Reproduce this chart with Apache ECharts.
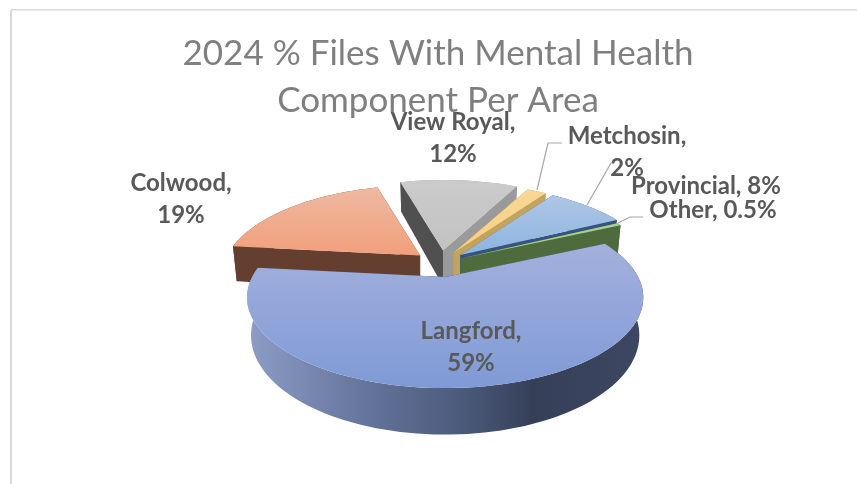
<!DOCTYPE html>
<html>
<head>
<meta charset="utf-8">
<title>2024 % Files With Mental Health Component Per Area</title>
<script src="https://cdn.jsdelivr.net/npm/echarts@6/dist/echarts.min.js"></script>
<style>
  html, body { margin: 0; padding: 0; background: #fff; }
  #chart { width: 857px; height: 484px; }
</style>
</head>
<body>
<div id="chart"></div>
<script>
const areas = ['Langford', 'Colwood', 'View Royal', 'Metchosin', 'Provincial', 'Other']
const shares = [59, 19, 12, 2, 8, 0.5]
const explode = [0.165, 0.135, 0.15, 0.135, 0.14, 0.12]

const topColors = [
  ['#A4B0DC', '#7F9AD6'],
  ['#EEB9A2', '#F29F7B'],
  ['#CBCBCB', '#C2C2C2'],
  ['#F7D896', '#F9CF80'],
  ['#AEC6E4', '#8EB4E0'],
  ['#A9D18E', '#A9D18E']
]
const startWall = ['#3A4560', '#643F30', '#505050', '#B89A50', '#35557F', '#4E6B3E']
const endWall = ['#3A4560', '#643F30', '#9A9A9A', '#C4A45C', '#35557F', '#4E6B3E']
const rimWall = ['#3A4560', '#643F30', '#9A9A9A', '#B89A50', '#35557F', '#4E6B3E']

// painted back to front, Langford hides the walls behind it
const drawOrder = [1, 2, 3, 4, 5, 0]

const firstAngle = 65
const baseX = 440
const baseY = 263
const radiusX = 193
const radiusY = 86
const perspective = 0.226
const depth = 36
const depthShrink = 0.98

const total = shares.reduce((a, b) => a + b, 0)
const slices = []
let angle = firstAngle
shares.forEach((v, i) => {
  const sweep = v / total * 360
  const mid = (angle + sweep / 2) * Math.PI / 180
  slices.push({
    from: angle,
    to: angle + sweep,
    ox: baseX + explode[i] * radiusX * Math.sin(mid),
    oy: baseY - explode[i] * radiusY * Math.cos(mid)
  })
  angle += sweep
})

function rimPoint(s, deg, low) {
  const t = deg * Math.PI / 180
  const k = 1 / (1 + perspective * Math.cos(t))
  const x = radiusX * Math.sin(t) * k
  const y = -radiusY * Math.cos(t) * k
  return low
    ? [s.ox + x * depthShrink, s.oy + y + depth * k]
    : [s.ox + x, s.oy + y]
}

function arc(s, low) {
  const pts = []
  const steps = Math.max(2, Math.ceil((s.to - s.from) / 2))
  for (let i = 0; i <= steps; i++) {
    pts.push(rimPoint(s, s.from + (s.to - s.from) * i / steps, low))
  }
  return pts
}

function renderSlice(params, api) {
  const i = api.value(0)
  const s = slices[i]
  const top = [s.ox, s.oy]
  const bottom = [s.ox, s.oy + depth]
  const upper = arc(s, false)
  const lower = arc(s, true)
  const poly = (points, fill) => ({ type: 'polygon', shape: { points }, style: { fill } })

  let rimFill = rimWall[i]
  if (i === 0) {
    rimFill = new echarts.graphic.LinearGradient(0, 0, 1, 0, [
      { offset: 0, color: '#8D9DC6' },
      { offset: 0.3, color: '#64749B' },
      { offset: 0.55, color: '#4B5979' },
      { offset: 0.72, color: '#353F58' },
      { offset: 1, color: '#3C4763' }
    ])
  }
  return {
    type: 'group',
    children: [
      poly(upper.concat(lower.slice().reverse()), rimFill),
      poly([top, upper[0], lower[0], bottom], startWall[i]),
      poly([top, upper[upper.length - 1], lower[lower.length - 1], bottom], endWall[i]),
      poly([top].concat(upper), new echarts.graphic.LinearGradient(0, 0, 0, 1, [
        { offset: 0, color: topColors[i][0] },
        { offset: 1, color: topColors[i][1] }
      ]))
    ]
  }
}

// label centres and leader lines, same order as areas
const labelAt = [[471, 347], [181, 199], [453, 138], [627, 152], [706, 186], [713, 210]]
const labelBreak = [true, true, true, true, false, false]
const leaders = [
  null,
  null,
  null,
  [[562, 143], [548, 143], [537, 190]],
  [[611, 163], [587, 205]],
  [[643, 217], [630, 217], [618, 223]]
]

function renderLabel(params, api) {
  const i = api.value(0)
  const children = []
  if (leaders[i]) {
    children.push({
      type: 'polyline',
      shape: { points: leaders[i] },
      style: { fill: null, stroke: '#A6A6A6', lineWidth: 1.2 }
    })
  }
  children.push({
    type: 'text',
    z2: 10,
    style: {
      text: areas[i] + (labelBreak[i] ? ',\n' : ', ') + shares[i] + '%',
      x: labelAt[i][0],
      y: labelAt[i][1],
      align: 'center',
      verticalAlign: 'middle',
      fill: '#595959',
      font: 'bold 24px Lato',
      lineHeight: 32
    }
  })
  return { type: 'group', children }
}

const chart = echarts.init(document.getElementById('chart'), null, { renderer: 'canvas' })
chart.setOption({
  animation: false,
  backgroundColor: '#fff',
  title: {
    text: '2024 % Files With Mental Health\nComponent Per Area',
    left: 433,
    top: 25,
    textAlign: 'center',
    textStyle: {
      color: '#7F7F7F',
      fontFamily: 'Lato',
      fontWeight: 'normal',
      fontSize: 35,
      lineHeight: 47
    }
  },
  graphic: [
    { type: 'line', shape: { x1: 11, y1: 484, x2: 11, y2: 10 }, style: { stroke: '#D9D9D9', lineWidth: 2 } },
    { type: 'line', shape: { x1: 11, y1: 9.75, x2: 857, y2: 9.75 }, style: { stroke: '#D9D9D9', lineWidth: 1.5 } }
  ],
  series: [
    {
      type: 'custom',
      coordinateSystem: 'none',
      silent: true,
      renderItem: renderSlice,
      data: drawOrder.map(i => [i])
    },
    {
      type: 'custom',
      coordinateSystem: 'none',
      silent: true,
      z: 5,
      renderItem: renderLabel,
      data: areas.map((name, i) => [i])
    }
  ]
})
</script>
</body>
</html>
